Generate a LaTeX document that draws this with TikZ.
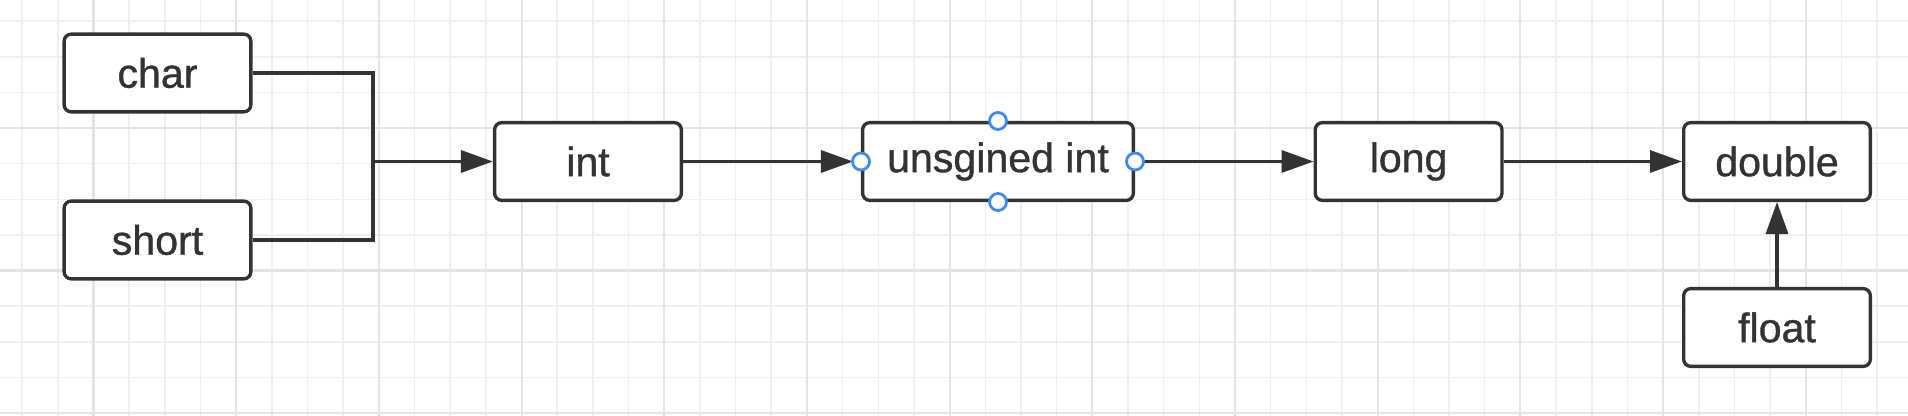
\documentclass[tikz,border=0pt]{standalone}
\usepackage{fontspec}
\setmainfont{Liberation Sans}
\newfontfamily\boxfont{Liberation Sans}[FakeBold=0.9]
\usetikzlibrary{arrows.meta,positioning,calc}
\definecolor{ink}{HTML}{333333}
\definecolor{gridminor}{HTML}{EFEFEF}
\definecolor{gridmajor}{HTML}{E4E4E4}
\definecolor{handleblue}{HTML}{3D8BF2}

\begin{document}
\begin{tikzpicture}[
  typebox/.style={draw=ink, line width=0.95pt, rounded corners=2pt, fill=white, text=ink,
    minimum width=1.867cm, minimum height=0.777cm, inner sep=0pt, font=\boxfont\fontsize{11.7}{14}\selectfont},
  conv/.style={color=ink, line width=0.95pt, -{Triangle[length=0.32cm,width=0.22cm]}},
  link/.style={draw=ink, line width=0.95pt},
  handle/.style={circle, draw=handleblue, fill=white, line width=0.8pt, minimum size=0.17cm, inner sep=0pt}
]
\useasboundingbox (0,0) rectangle (19.08,4.16);
\fill[white] (0,0) rectangle (19.08,4.16);
% grid
\foreach \i in {0,...,52} \draw[gridminor, line width=0.45pt] ({0.222+0.3567*\i},0) -- ++(0,4.16);
\foreach \j in {0,...,11} \draw[gridminor, line width=0.45pt] (0,{3.948-0.3562*\j}) -- ++(19.08,0);
\foreach \i in {2,6,...,50} \draw[gridmajor, line width=0.6pt] ({0.222+0.3567*\i},0) -- ++(0,4.16);
\foreach \j in {3,7,11} \draw[gridmajor, line width=0.6pt] (0,{3.948-0.3562*\j}) -- ++(19.08,0);

% types
\node[typebox] (char) at (1.575,3.43) {char};
\node[typebox] (short) at (1.575,1.76) {short};
\node[typebox] (int) at (5.88,2.545) {int};
\node[typebox, minimum width=2.707cm] (uint) at (9.98,2.545) {unsgined int};
\node[typebox] (long) at (14.086,2.545) {long};
\node[typebox] (double) at (17.77,2.545) {double};
\node[typebox] (float) at (17.77,0.885) {float};

% conversions
\coordinate (merge) at (3.73,2.545);
\draw[link] (char.east) -| (merge) |- (short.east);
\path[conv]
(merge) edge (int)
(int) edge[shorten >=0.08cm] (uint)
(uint) edge[shorten <=0.08cm] (long)
(long) edge (double)
(float) edge (double)
;
\node[handle] (uint-w) at (uint.west) {};
\node[handle] (uint-e) at (uint.east) {};
\node[handle] (uint-n) at (uint.north) {};
\node[handle] (uint-s) at (uint.south) {};
\end{tikzpicture}
\end{document}
